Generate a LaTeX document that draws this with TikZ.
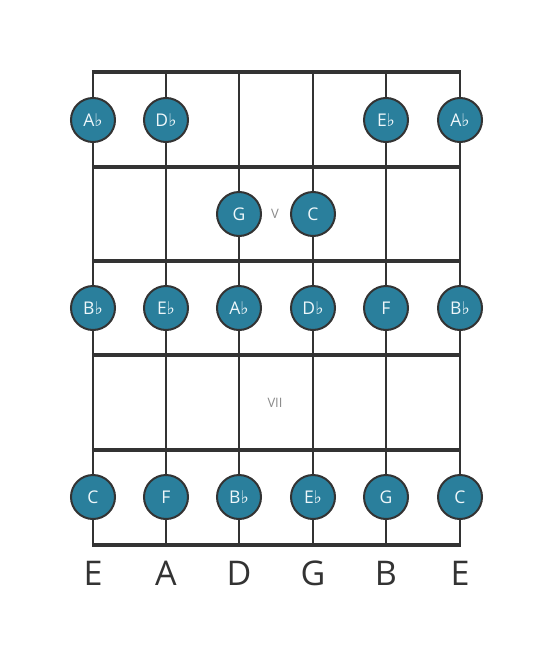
\documentclass[tikz,border=0pt]{standalone}
\usepackage{fontspec}
\setmainfont{Open Sans}
\newfontfamily\symfont{DejaVu Sans}
\definecolor{notefill}{HTML}{2A7F9C}
\definecolor{wire}{HTML}{333333}
\definecolor{posgray}{HTML}{8A8A8A}
\definecolor{notetext}{HTML}{EEF7FA}
\newcommand{\fl}{{\symfont\char"266D}}
\tikzset{
  note/.style={circle, draw=wire, line width=2pt, fill=notefill, minimum size=44pt,
    inner sep=0pt, text=notetext, font=\fontsize{17.5}{17.5}\selectfont},
  fretmark/.style={text=posgray, font=\fontsize{13}{13}\selectfont},
  openname/.style={text=wire, font=\fontsize{34}{34}\selectfont}
}
\begin{document}
\begin{tikzpicture}[x=1pt,y=-1pt]
\useasboundingbox (0,0) rectangle (553,656);
% strings
\foreach \s/\x in {1/93,2/166,3/239,4/313,5/386,6/460}
  \draw[wire, line width=2.5pt] (\x,72) -- (\x,545);
% frets
\foreach \y in {72,167,261,355,450,545}
  \draw[wire, line width=4pt] (91.75,\y) -- (461.25,\y);
% position marks
\node[fretmark] (markV) at (275,214) {V};
\node[fretmark] (markVII) at (275,403) {VII};
% notes on the first row
\node[note] (n11) at (93,120) {A\fl};
\node[note] (n12) at (166,120) {D\fl};
\node[note] (n15) at (386,120) {E\fl};
\node[note] (n16) at (460,120) {A\fl};
% second row
\node[note] (n23) at (239,214) {G};
\node[note] (n24) at (313,214) {C};
% third row
\foreach \s/\x/\t in {1/93/B\fl,2/166/E\fl,3/239/A\fl,4/313/D\fl,5/386/F,6/460/B\fl}
  \node[note] (n3\s) at (\x,308) {\t};
% fifth row
\foreach \s/\x/\t in {1/93/C,2/166/F,3/239/B\fl,4/313/E\fl,5/386/G,6/460/C}
  \node[note] (n5\s) at (\x,497) {\t};
% open strings
\foreach \s/\x/\t in {1/93/E,2/166/A,3/239/D,4/313/G,5/386/B,6/460/E}
  \node[openname] (open\s) at (\x,573) {\t};
\end{tikzpicture}
\end{document}
